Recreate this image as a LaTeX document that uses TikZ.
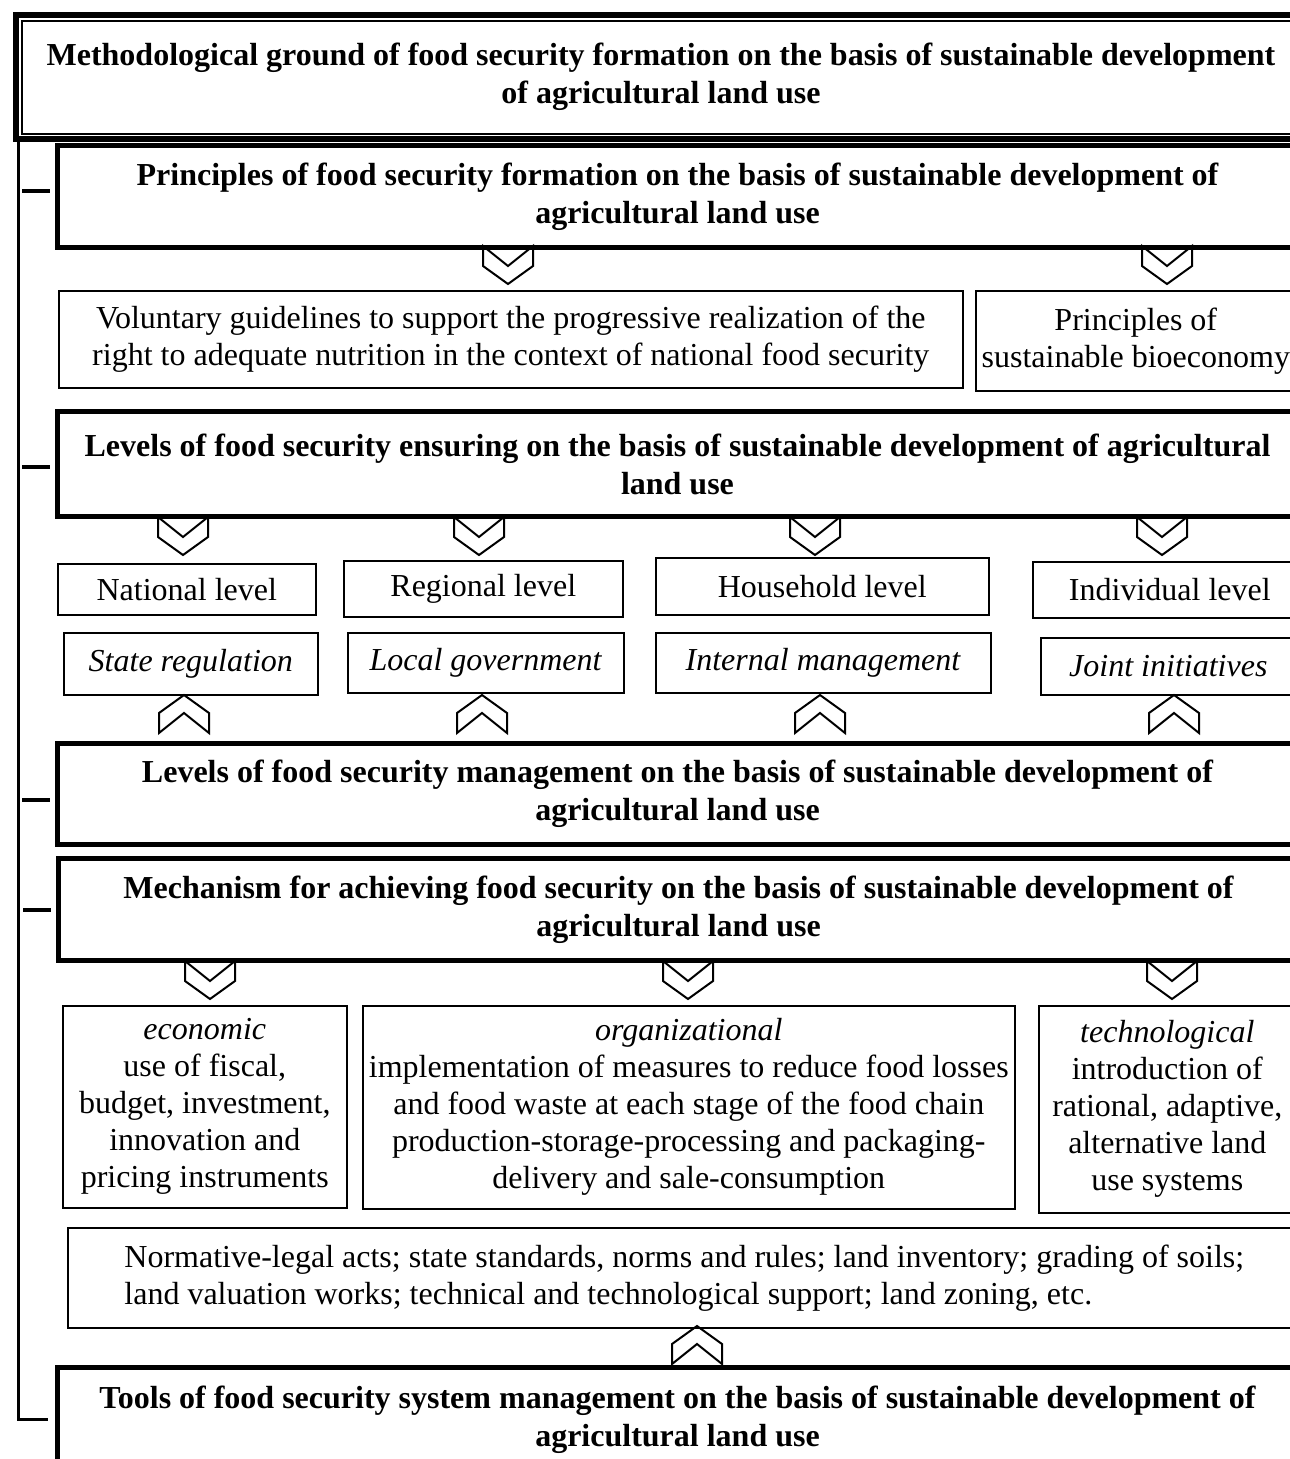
\documentclass[tikz,border=0pt]{standalone}
\usepackage{fontspec}
\setmainfont{Liberation Serif}

\tikzset{
  sec/.style={draw, line width=5pt, anchor=north west, inner sep=0pt, align=center, font=\bfseries\fontsize{32}{38}\selectfont},
  box/.style={draw, line width=1.6pt, anchor=north west, inner sep=0pt, align=center, font=\fontsize{32}{37}\selectfont},
  chev/.style={draw, line width=2pt, line join=miter},
  chevdown/.pic={\path[chev] (-25,0) -- (0,20) -- (25,0) -- (25,20) -- (0,38) -- (-25,20) -- cycle;},
  chevup/.pic={\path[chev] (-25,0) -- (0,-20) -- (25,0) -- (25,-20) -- (0,-38) -- (-25,-20) -- cycle;}
}

\begin{document}
\begin{tikzpicture}[x=1pt, y=-1pt]
\useasboundingbox (0,0) rectangle (1290,1459);
\clip (0,0) rectangle (1290,1459);
\node (T) [sec, line width=6pt, minimum width=1290, minimum height=124] at (13,12) {Methodological ground of food security formation on the basis of sustainable development\\ of agricultural land use};
\draw[line width=2pt] ([shift={(8.5,8.5)}]T.north west) rectangle ([shift={(-8.5,-8.5)}]T.south east);
  \node (P) [sec, minimum width=1240, minimum height=102] at (55,143) {Principles of food security formation on the basis of sustainable development of\\ agricultural land use};
  \node (E) [sec, minimum width=1240, minimum height=105] at (55,409) {Levels of food security ensuring on the basis of sustainable development of agricultural\\ land use};
  \node (G) [sec, minimum width=1240, minimum height=101] at (55,741) {Levels of food security management on the basis of sustainable development of\\ agricultural land use};
  \node (K) [sec, minimum width=1240, minimum height=102] at (56,856) {Mechanism for achieving food security on the basis of sustainable development of\\ agricultural land use};
  \node (W) [sec, minimum width=1240, minimum height=104] at (55,1365) {Tools of food security system management on the basis of sustainable development of\\ agricultural land use};
  \node (V) [box, minimum width=904, minimum height=97] at (58,290) {Voluntary guidelines to support the progressive realization of the\\ right to adequate nutrition in the context of national food security};
  \node (B) [box, minimum width=320, minimum height=100] at (975,290) {Principles of\\ sustainable bioeconomy};
  \node (N) [box, minimum width=258, minimum height=51] at (57,563) {National level};
  \node (R) [box, minimum width=279, minimum height=56] at (343,560) {Regional level};
  \node (H) [box, minimum width=333, minimum height=57] at (655,557) {Household level};
  \node (I) [box, minimum width=274, minimum height=56] at (1032,561) {Individual level};
  \node (SR) [box, minimum width=254, minimum height=62] at (63,632) {\textit{State regulation}};
  \node (LG) [box, minimum width=276, minimum height=60] at (347,632) {\textit{Local government}};
  \node (IM) [box, minimum width=335, minimum height=60] at (655,632) {\textit{Internal management}};
  \node (JI) [box, minimum width=255, minimum height=57] at (1040,637) {\textit{Joint initiatives}};
  \node (Ec) [box, minimum width=284, minimum height=202] at (62,1005) {\textit{economic}\\ use of fiscal,\\ budget, investment,\\ innovation and\\ pricing instruments};
  \node (Or) [box, minimum width=652, minimum height=203] at (362,1005) {\textit{organizational}\\ implementation of measures to reduce food losses\\ and food waste at each stage of the food chain\\ production-storage-processing and packaging-\\ delivery and sale-consumption};
  \node (Te) [box, minimum width=257, minimum height=207] at (1038,1005) {\textit{technological}\\ introduction of\\ rational, adaptive,\\ alternative land\\ use systems};
  \node (Nr) [box, align=left, minimum width=1233, minimum height=100] at (67,1227) {Normative-legal acts; state standards, norms and rules; land inventory; grading of soils;\\ land valuation works; technical and technological support; land zoning, etc.};
   \pic at (508,246) {chevdown};
   \pic at (1167,246) {chevdown};
   \foreach \x in {183,479,815,1162} \pic at (\x,517) {chevdown};
   \foreach \x in {184,482,820,1174} \pic at (\x,733) {chevup};
   \foreach \x in {210,688,1172} \pic at (\x,961) {chevdown};
   \pic at (697,1364) {chevup};
   \draw[line width=3pt] ([xshift=5.5]T.south west) |- ([xshift=-7]W.west);
   \foreach \n/\d in {P/6,E/-2.5,G/-5.5,K/0} \draw[line width=4pt] ([shift={(-33,-\d)}]\n.west) -- ([shift={(-5,-\d)}]\n.west);
\end{tikzpicture}
\end{document}
